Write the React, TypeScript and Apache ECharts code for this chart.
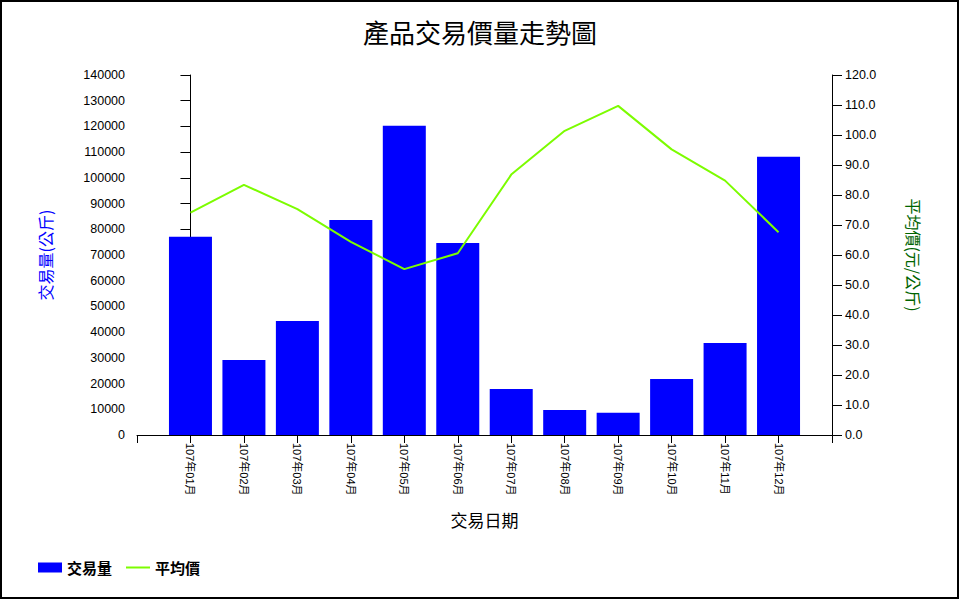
import React, { useEffect, useRef } from "react";
import * as echarts from "echarts";

const categories = [
  "107年01月", "107年02月", "107年03月", "107年04月", "107年05月", "107年06月",
  "107年07月", "107年08月", "107年09月", "107年10月", "107年11月", "107年12月",
];
const volume = [77100, 29200, 44300, 83600, 120300, 74700, 17900, 9700, 8700, 21800, 35800, 108200];
const avgPrice = [74.1, 83.4, 75.3, 64.4, 55.3, 60.6, 86.8, 101.4, 109.7, 95.2, 84.8, 67.6];

const FONT = "'Liberation Sans', Arial, 'Noto Sans CJK TC', sans-serif";
const CJK = "'Noto Sans CJK TC', sans-serif";

export default function App() {
  const ref = useRef<HTMLDivElement>(null);
  useEffect(() => {
    if (!ref.current) return;
    const chart = echarts.init(ref.current, undefined, { renderer: "svg" });
    chart.setOption({
      animation: false,
      backgroundColor: "#fff",
      title: {
        text: "產品交易價量走勢圖",
        left: "center",
        top: 13,
        textStyle: { fontFamily: CJK, fontSize: 26, fontWeight: "normal", color: "#000" },
      },
      legend: {
        left: 38,
        top: 560,
        padding: 0,
        itemWidth: 24,
        itemHeight: 10,
        itemGap: 14,
        textStyle: { fontFamily: CJK, fontSize: 15, fontWeight: "bold", color: "#000" },
        data: [
          { name: "交易量", icon: "rect" },
          { name: "平均價", icon: "path://M0,0 L24,0 L24,2 L0,2 Z" },
        ],
      },
      grid: { left: 137, right: 128, top: 75, bottom: 165 },
      xAxis: {
        type: "value",
        min: -1,
        max: categories.length,
        interval: 1,
        name: "交易日期",
        nameLocation: "middle",
        nameGap: 76,
        nameTextStyle: { fontFamily: CJK, fontSize: 17, color: "#000" },
        axisLine: { lineStyle: { color: "#000", width: 1 } },
        axisTick: { show: true, length: 8, lineStyle: { color: "#000" } },
        splitLine: { show: false },
        axisLabel: {
          rotate: -90,
          margin: 8,
          fontFamily: FONT,
          fontSize: 11,
          color: "#000",
          formatter: (v: number) => categories[v] ?? "",
        },
      },
      yAxis: [
        {
          type: "value",
          min: 0,
          max: 140000,
          interval: 10000,
          position: "left",
          name: "交易量(公斤)",
          nameLocation: "middle",
          nameGap: 84,
          nameTextStyle: { fontFamily: CJK, fontSize: 16, color: "#0000FF" },
          axisLine: { show: true, lineStyle: { color: "#000", width: 1 } },
          axisTick: { show: true, length: 10, lineStyle: { color: "#000" } },
          splitLine: { show: false },
          axisLabel: {
            margin: 12,
            fontFamily: FONT,
            fontSize: 12.5,
            color: "#000",
            formatter: (v: number) => String(v),
          },
        },
        {
          type: "value",
          min: 0,
          max: 120,
          interval: 10,
          position: "right",
          name: "平均價(元/公斤)",
          nameLocation: "middle",
          nameGap: 74,
          nameRotate: -90,
          nameTextStyle: { fontFamily: CJK, fontSize: 16, color: "#006400" },
          axisLine: { show: true, lineStyle: { color: "#000", width: 1 } },
          axisTick: { show: true, length: 10, lineStyle: { color: "#000" } },
          splitLine: { show: false },
          axisLabel: {
            margin: 13,
            fontFamily: FONT,
            fontSize: 12.5,
            color: "#000",
            formatter: (v: number) => v.toFixed(1),
          },
        },
      ],
      series: [
        {
          name: "交易量",
          type: "bar",
          yAxisIndex: 0,
          barWidth: 43,
          itemStyle: { color: "#0000FF" },
          data: volume.map((v, i) => [i, v]),
        },
        {
          name: "平均價",
          type: "line",
          yAxisIndex: 1,
          symbol: "none",
          lineStyle: { color: "#7CFC00", width: 2 },
          itemStyle: { color: "#7CFC00" },
          data: avgPrice.map((v, i) => [i, v]),
        },
      ],
      graphic: [
        {
          type: "rect",
          shape: { x: 1, y: 1, width: 957, height: 597 },
          style: { fill: "none", stroke: "#000", lineWidth: 2 },
          silent: true,
        },
      ],
    });
    return () => chart.dispose();
  }, []);
  return (
    <div
      ref={ref}
      style={{ position: "fixed", left: 0, top: 0, width: 960, height: 600, background: "#fff" }}
    />
  );
}
